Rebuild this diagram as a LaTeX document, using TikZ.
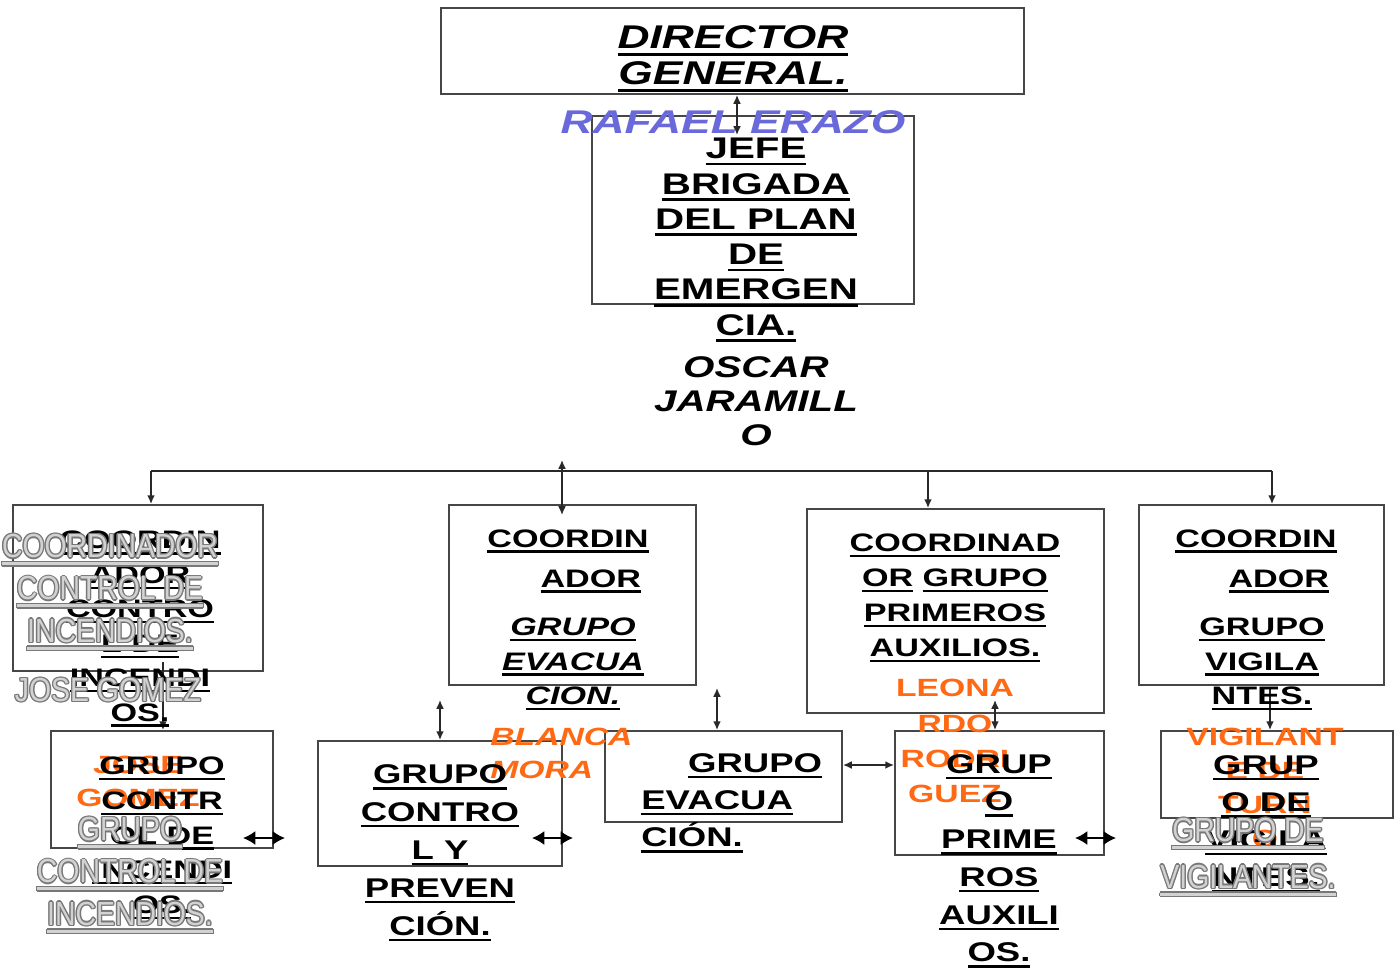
\documentclass[tikz,border=0pt]{standalone}
\usepackage{fontspec}
\setmainfont{Liberation Sans}[FakeStretch=1.35]
\newfontfamily\narrowfont{Liberation Sans}[FakeStretch=0.85]
\usetikzlibrary{arrows.meta,fit}

\definecolor{boxline}{RGB}{70,70,70}
\definecolor{linkline}{RGB}{40,40,40}
\definecolor{namered}{RGB}{255,105,20}
\definecolor{nameblue}{RGB}{105,105,220}
\definecolor{ghostline}{RGB}{120,120,120}
\definecolor{ghostfill}{RGB}{210,210,210}

% underlined line of a label
\newcommand\lined[1]{\setbox0\hbox{#1}\leavevmode\rlap{\rule[-0.22em]{\wd0}{0.09em}}\box0\relax}

\tikzset{
    box/.style={draw=boxline, line width=1.1pt, inner sep=0pt},
    txt/.style={align=center, inner sep=0pt},
    ghosttxt/.style={align=center, inner sep=0pt, font=\narrowfont\fontsize{19}{24}\selectfont},
    arrsm/.style={draw=linkline, line width=0.9pt, -{Latex[length=5pt,width=4.5pt]}},
    dblsm/.style={draw=linkline, line width=0.9pt, {Latex[length=5pt,width=4.5pt]}-{Latex[length=5pt,width=4.5pt]}},
    dblbig/.style={draw=black, line width=1.1pt, {Latex[length=7pt,width=8pt]}-{Latex[length=7pt,width=8pt]}}
}

% grey outlined text
\newcommand\ghostlabel[3]{%
    \foreach \a in {0,45,...,315}
        \node[ghosttxt, text=ghostline, shift={(\a:0.8pt)}] at (#2) {#3};
    \node[ghosttxt, text=ghostfill] (#1) at (#2) {#3};}

\begin{document}
\begin{tikzpicture}[x=0.02cm, y=-0.02cm]
    \useasboundingbox (0,0) rectangle (1400,971);

    \node[box, fit={(441,8) (1024,94)}] (dir) {};
    \node[box, fit={(592,116) (914,304)}] (jefe) {};
    \node[box, fit={(13,505) (263,671)}] (c1) {};
    \node[box, fit={(449,505) (696,685)}] (c2) {};
    \node[box, fit={(807,509) (1104,713)}] (c3) {};
    \node[box, fit={(1139,505) (1384,685)}] (c4) {};
    \node[box, fit={(51,731) (273,848)}] (g1) {};
    \node[box, fit={(318,741) (562,866)}] (g2) {};
    \node[box, fit={(605,731) (842,822)}] (g3) {};
    \node[box, fit={(895,731) (1104,855)}] (g4) {};
    \node[box, fit={(1161,731) (1393,818)}] (g5) {};

    \coordinate (jtop) at (737,135);
    \draw[dblsm] (dir.south -| jtop) -- (jtop);

    \coordinate (busL) at (151,471);
    \coordinate (busM) at (928,471);
    \coordinate (busR) at (1272,471);
    \coordinate (up2) at (562,460);
    \coordinate (dn2) at (562,515);
    \draw[draw=linkline, line width=0.9pt] (busL) -- (busR);
    \draw[arrsm] (busL) -- (busL |- c1.north);
    \draw[arrsm] (busM) -- (busM |- c3.north);
    \draw[arrsm] (busR) -- (busR |- c4.north);
    \draw[dblsm] (up2) -- (dn2);

    \coordinate (v1) at (163,662);
    \coordinate (v2) at (440,700);
    \coordinate (v3) at (717,688);
    \coordinate (v4) at (995,700);
    \coordinate (v5) at (1270,688);
    \draw[arrsm] (v1) -- (v1 |- g1.north);
    \draw[dblsm] (v2) -- (v2 |- g2.north);
    \draw[dblsm] (v3) -- (v3 |- g3.north);
    \draw[dblsm] (v4) -- (v4 |- g4.north);
    \draw[arrsm] (v5) -- (v5 |- g5.north);

    \coordinate (h1) at (243,838);  \coordinate (h1e) at (285,838);
    \coordinate (h2) at (532,838);  \coordinate (h2e) at (573,838);
    \coordinate (h3) at (1075,838); \coordinate (h3e) at (1116,838);
    \coordinate (h4) at (843,765);
    \draw[dblbig] (h1) -- (h1e);
    \draw[dblbig] (h2) -- (h2e);
    \draw[dblbig] (h3) -- (h3e);
    \draw[dblsm] (h4) -- (h4 -| g4.west);

    % names in colour
    \node[txt, font=\bfseries\itshape\fontsize{18.7}{20.4}\selectfont, text=nameblue] (rafael) at (733,122) {RAFAEL ERAZO};
    \node[txt, font=\bfseries\fontsize{14.2}{18.7}\selectfont, text=namered] (g1boss) at (138,781) {JOSE\\GOMEZ};
    \node[txt, font=\bfseries\itshape\fontsize{14.2}{18.7}\selectfont, text=namered, align=left, anchor=west] (c2boss) at (490,753) {BLANCA\\MORA};
    \node[txt, font=\bfseries\fontsize{14.2}{20}\selectfont, text=namered] (c3boss) at (955,741) {LEONA\\RDO\\RODRI\\GUEZ};
    \node[txt, font=\bfseries\fontsize{14.2}{19.5}\selectfont, text=namered] (c4boss) at (1265,788) {VIGILANT\\E DE\\TURN\\O};

    % black labels
    \node[txt, font=\bfseries\itshape\fontsize{18.7}{20.4}\selectfont] (dirtxt) at (733,59) {\lined{DIRECTOR}\\\lined{GENERAL.}};
    \node[txt, font=\bfseries\fontsize{17}{20.1}\selectfont] (jefetxt) at (756,240) {\lined{JEFE}\\\lined{BRIGADA}\\\lined{DEL PLAN}\\\lined{DE}\\\lined{EMERGEN}\\\lined{CIA.}};
    \node[txt, font=\bfseries\itshape\fontsize{17}{19.3}\selectfont] (oscar) at (756,401) {OSCAR\\JARAMILL\\O};

    \node[txt, font=\bfseries\fontsize{14.4}{19.6}\selectfont] (c1txt) at (140,629) {\lined{COORDIN}\\\lined{ADOR}\\\lined{CONTRO}\\\lined{L DE}\\\lined{INCENDI}\\\lined{OS.}};
    \node[txt, font=\bfseries\fontsize{14.4}{19.8}\selectfont] (c2head) at (568,561) {\lined{COORDIN}\\[3pt]\hspace*{26pt}\lined{ADOR}};
    \node[txt, font=\bfseries\itshape\fontsize{14.4}{19.8}\selectfont] (c2name) at (573,664) {\lined{GRUPO}\\\lined{EVACUA}\\\lined{CION.}};
    \node[txt, font=\bfseries\fontsize{14.4}{19.8}\selectfont] (c3txt) at (955,598) {\lined{COORDINAD}\\\lined{OR} \lined{GRUPO}\\\lined{PRIMEROS}\\\lined{AUXILIOS.}};
    \node[txt, font=\bfseries\fontsize{14.4}{19.8}\selectfont] (c4head) at (1256,561) {\lined{COORDIN}\\[3pt]\hspace*{26pt}\lined{ADOR}};
    \node[txt, font=\bfseries\fontsize{14.4}{19.8}\selectfont] (c4name) at (1262,664) {\lined{GRUPO}\\\lined{VIGILA}\\\lined{NTES.}};

    \node[txt, font=\bfseries\fontsize{14.4}{19.8}\selectfont] (g1txt) at (162,838) {\lined{GRUPO}\\\lined{CONTR}\\\lined{OL DE}\\\lined{INCENDI}\\\lined{OS.}};
    \node[txt, font=\bfseries\fontsize{15.4}{21.6}\selectfont] (g2txt) at (440,853) {\lined{GRUPO}\\\lined{CONTRO}\\\lined{L Y}\\\lined{PREVEN}\\\lined{CIÓN.}};
    \node[txt, font=\bfseries\fontsize{15.4}{21.3}\selectfont, align=left, anchor=west] (g3txt) at (641,803) {\hspace*{26.6pt}\lined{GRUPO}\\\lined{EVACUA}\\\lined{CIÓN.}};
    \node[txt, font=\bfseries\fontsize{15.4}{21.5}\selectfont] (g4txt) at (999,861) {\lined{GRUP}\\\lined{O}\\\lined{PRIME}\\\lined{ROS}\\\lined{AUXILI}\\\lined{OS.}};
    \node[txt, font=\bfseries\fontsize{15.4}{21.4}\selectfont] (g5txt) at (1266,824) {\lined{GRUP}\\\lined{O DE}\hspace*{19pt}\\\lined{VIGILA}\\\lined{NTES.}};

    % grey outlined labels
    \ghostlabel{c1name}{110,592}{\lined{COORDINADOR}\\\lined{CONTROL DE}\\\lined{INCENDIOS.}}
    \ghostlabel{c1boss}{108,690}{JOSE GOMEZ}
    \ghostlabel{g1name}{130,875}{\lined{GRUPO}\\\lined{CONTROL DE}\\\lined{INCENDIOS.}}
    \ghostlabel{g5name}{1248,857}{\lined{GRUPO DE}\\[2.6pt]\lined{VIGILANTES.}}
\end{tikzpicture}
\end{document}
